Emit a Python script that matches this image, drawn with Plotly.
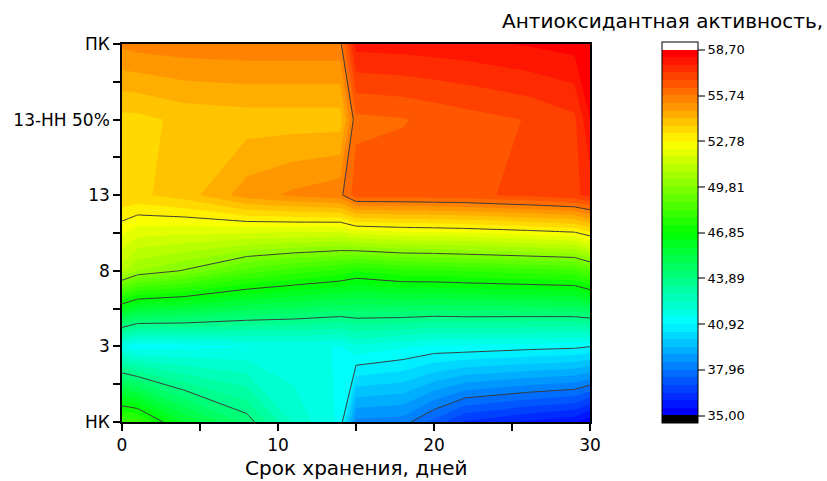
import plotly.graph_objects as go

# ---- data ----
days = [0, 1, 4, 8, 11, 14, 15, 18, 20, 22, 26, 29, 30]
groups = ["НК", "3", "8", "13", "13-НН 50%", "ПК"]

aoa_nk      = [48.3, 48.1, 45.8, 44.2, 42.3, 41.3, 38.3, 38.2, 37.3, 36.4, 35.9, 35.6, 35.1]
aoa_3       = [41.5, 41.1, 41.25, 41.4, 41.5, 41.4, 41.8, 41.5, 41.3, 41.3, 41.15, 41.06, 40.95]
aoa_8       = [51.0, 50.3, 49.75, 48.6, 48.1, 47.7, 47.4, 47.75, 47.8, 47.9, 48.1, 48.25, 48.8]
aoa_13      = [53.7, 53.65, 54.0, 55.0, 55.35, 55.6, 56.5, 56.5, 56.55, 56.6, 56.85, 57.1, 57.4]
aoa_13nn50  = [53.6, 53.6, 53.9, 54.0, 54.0, 54.0, 56.1, 56.2, 56.35, 56.5, 56.75, 57.1, 58.2]
aoa_pk      = [55.35, 55.45, 55.55, 55.6, 55.6, 55.6, 57.9, 57.95, 58.0, 58.05, 58.25, 58.4, 58.65]

x_ticks = [0, 10, 20, 30]
cbar_ticks = [35.0, 37.9625, 40.925, 43.8875, 46.85, 49.8125, 52.775, 55.7375, 58.7]
cbar_labels = ["35,00", "37,96", "40,92", "43,89", "46,85", "49,81", "52,78", "55,74", "58,70"]

# ---- styling ----
z = [aoa_nk, aoa_3, aoa_8, aoa_13, aoa_13nn50, aoa_pk]
ypos = list(range(len(groups)))
lvl_start, lvl_end = cbar_ticks[0], cbar_ticks[-1]
n_bands = 48
step = (lvl_end - lvl_start) / n_bands
line_step = cbar_ticks[1] - cbar_ticks[0]
n_lines = n_bands + 1
p0 = 1.0 / n_lines
span = (n_bands - 1) / n_lines
colorscale = [
    [0.0, "rgb(0,0,0)"],
    [p0, "rgb(0,0,255)"],
    [p0 + 0.25 * span, "rgb(0,255,255)"],
    [p0 + 0.50 * span, "rgb(0,255,0)"],
    [p0 + 0.75 * span, "rgb(255,255,0)"],
    [p0 + span, "rgb(255,0,0)"],
    [1.0, "rgb(255,255,255)"],
]

W, H = 827, 481
ml, mr, mt, mb = 122, 237, 44, 59
pw, ph = W - ml - mr, H - mt - mb

def px_x(px):
    return (px - ml) / pw

def px_y(py):
    return (H - mb - py) / ph

FONT = "DejaVu Sans"

fig = go.Figure()
fig.add_trace(go.Contour(
    x=days, y=ypos, z=z,
    zauto=False, zmin=lvl_start - step, zmax=lvl_end + step,
    autocontour=False,
    contours=dict(start=lvl_start, end=lvl_end, size=step, coloring="fill", showlines=False),
    colorscale=colorscale,
    line=dict(width=0, smoothing=0),
    hoverinfo="skip",
    colorbar=dict(
        x=px_x(662), xanchor="left", xpad=0,
        y=px_y(232.7), yanchor="middle", ypad=0,
        thickness=36, thicknessmode="pixels",
        len=381, lenmode="pixels",
        outlinewidth=1, outlinecolor="black",
        tickmode="array", tickvals=cbar_ticks, ticktext=cbar_labels,
        ticks="outside", ticklen=7, tickwidth=1.5, tickcolor="#777777",
        tickfont=dict(size=13, color="black", family=FONT),
    ),
))
fig.add_trace(go.Contour(
    x=days, y=ypos, z=z,
    autocontour=False,
    contours=dict(start=lvl_start, end=lvl_end, size=line_step, coloring="none", showlines=True),
    line=dict(color="#3a3a3a", width=1, smoothing=0),
    showscale=False,
    hoverinfo="skip",
))

axis_common = dict(
    showgrid=False, zeroline=False,
    showline=True, linecolor="black", linewidth=1.5, mirror=True,
    ticks="outside", ticklen=7, tickwidth=1.5, tickcolor="black",
    tickfont=dict(size=17, color="black", family=FONT),
)

fig.update_layout(
    width=W, height=H,
    margin=dict(l=ml, r=mr, t=mt, b=mb, pad=0),
    paper_bgcolor="white", plot_bgcolor="white",
    font=dict(family=FONT, color="black"),
    xaxis=dict(range=[days[0], days[-1]], tickmode="array", tickvals=x_ticks,
               minor=dict(tickmode="array", tickvals=[5, 15, 25], ticks="outside",
                          ticklen=7, tickwidth=1.5, tickcolor="black"),
               **axis_common),
    yaxis=dict(range=[ypos[0], ypos[-1]], tickmode="array", tickvals=ypos, ticktext=groups,
               minor=dict(tickmode="array", tickvals=[0.5, 1.5, 2.5, 3.5, 4.5], ticks="outside",
                          ticklen=7, tickwidth=1.5, tickcolor="black"),
               **axis_common),
    annotations=[
        dict(text="Срок хранения, дней", xref="paper", yref="paper",
             x=0.5, y=px_y(468), xanchor="center", yanchor="middle",
             showarrow=False, font=dict(size=20, color="black", family=FONT)),
        dict(text="Антиоксидантная активность,", xref="paper", yref="paper",
             x=px_x(825), y=px_y(21), xanchor="right", yanchor="middle",
             showarrow=False, font=dict(size=20, color="black", family=FONT)),
    ],
)

fig.write_html("out.html", config={"displayModeBar": False},
               post_script="document.body.style.margin='0px';")
